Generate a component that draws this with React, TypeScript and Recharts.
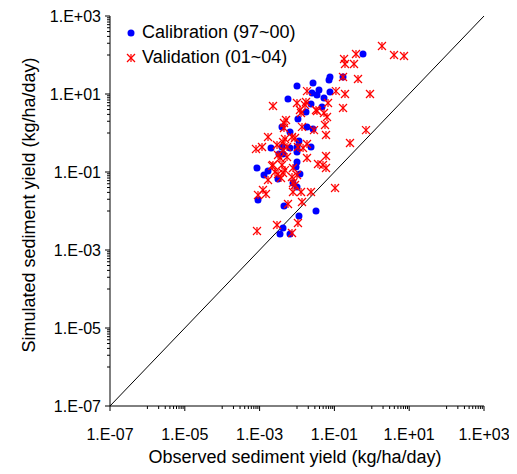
import React from 'react';
import { ScatterChart, Scatter, XAxis, YAxis, ReferenceLine } from 'recharts';

// Calibration (97~00): observed vs simulated sediment yield (kg/ha/day)
const calibrationObserved = [
  0.582, 0.0762, 0.0718, 0.17, 0.0268, 0.0387, 0.0762, 0.0527, 0.0252, 0.0343,
  0.0237, 0.0466, 0.01, 0.00574, 0.0174, 0.0106, 0.00397, 0.0065, 0.0185, 0.00202,
  0.00397, 0.0065, 0.01, 0.0113, 0.0237, 0.00423, 0.01, 0.0033, 0.000851, 0.00131,
  0.00168, 0.0031, 0.01, 0.0094, 0.012, 0.00782, 0.01, 0.000906, 0.00449, 0.0113,
  0.0322, 0.00423, 0.00351, 0.0065, 0.0268,
];
const calibrationSimulated = [
  106, 27.3, 22.9, 27.3, 19.1, 12.7, 11.2, 7.89, 10.6, 9.42,
  5.54, 4.64, 16.0, 7.44, 3.45, 2.29, 1.43, 1.06, 1.43, 0.412,
  0.438, 0.412, 0.438, 0.624, 0.438, 0.29, 0.326, 0.29, 0.127, 0.0838,
  0.106, 0.0662, 0.18, 0.134, 0.0889, 0.0522, 0.0412, 0.0191, 0.0134, 0.00745,
  0.01, 0.00366, 0.00257, 0.00257, 1.27,
];

// Validation (01~04)
const validationObserved = [
  1.87, 3.93, 7.26, 0.378, 0.181, 0.192, 0.334, 0.17, 0.428, 0.192,
  0.895, 0.17, 0.7, 0.11, 0.0675, 0.0322, 0.0527, 0.0634, 0.261, 0.104,
  0.0596, 0.0495, 0.0596, 0.0596, 0.0561, 0.0237, 0.00228, 0.0185, 0.01, 0.0174,
  0.012, 0.0343, 0.00508, 0.00449, 0.0136, 0.0285, 0.00168, 0.00116, 0.000802, 0.00477,
  0.00735, 0.0185, 0.0145, 0.0106, 0.00423, 0.00541, 0.00311, 0.00541, 0.00228, 0.00397,
  0.00477, 0.00782, 0.0185, 0.00168, 0.00311, 0.01, 0.00782, 0.0364, 0.00373, 0.00123,
  0.000906, 0.00148, 0.00782, 0.0128, 0.00574, 0.0136, 0.0106, 0.00292, 0.000851, 0.00735,
  0.00885, 0.0164, 0.0128, 0.00449, 0.00885, 0.00292, 0.00423, 0.00351, 0.00215, 0.00258,
  0.00423, 0.00735,
];
const validationSimulated = [
  170, 100, 94.2, 106, 78.9, 58.8, 58.8, 27.3, 24.3, 10.0,
  10.0, 4.38, 1.19, 11.9, 5.88, 3.89, 3.26, 2.57, 0.555, 0.0389,
  0.257, 0.151, 0.127, 0.889, 1.6, 0.0307, 4.92, 11.9, 5.88, 6.24,
  3.89, 3.66, 2.15, 1.34, 1.43, 1.19, 0.789, 0.438, 0.389, 0.701,
  0.789, 0.523, 0.412, 0.438, 0.588, 0.438, 0.273, 0.243, 0.151, 0.151,
  0.112, 0.127, 0.229, 0.0624, 0.0889, 0.0838, 0.0522, 0.16, 0.0702, 0.0345,
  0.0257, 0.0273, 0.0307, 0.0307, 0.0151, 0.017, 0.00492, 0.00438, 0.00307, 0.00273,
  0.0465, 5.22, 3.26, 1.8, 0.745, 0.492, 0.366, 0.229, 0.143, 0.1,
  0.0942, 0.0745,
];

const labelledTicks = [1e-7, 1e-5, 1e-3, 1e-1, 1e1, 1e3];
const minorDecades = [1e-6, 1e-4, 1e-2, 1, 1e2];
const minorMultipliers = [1, 2, 3, 4, 5, 6, 7, 8, 9];
const axisDomain = [1e-7, 1e3];

const axisTicks = [
  ...labelledTicks,
  ...minorDecades.flatMap((d) => minorMultipliers.map((m) => d * m)),
].sort((a, b) => a - b);

const calibrationData = calibrationObserved.map((x, i) => ({ x, y: calibrationSimulated[i] }));
const validationData = validationObserved.map((x, i) => ({ x, y: validationSimulated[i] }));

const FONT = '"Liberation Sans", Arial, sans-serif';
const BLUE = '#0000FF';
const RED = '#FF0000';

const isLabelled = (v: number) =>
  labelledTicks.some((t) => Math.abs(Math.log10(t) - Math.log10(v)) < 1e-6);

const formatTick = (v: number) => {
  const e = Math.round(Math.log10(v));
  return `1.E${e < 0 ? '-' : '+'}${String(Math.abs(e)).padStart(2, '0')}`;
};

const XTick = (props: any) => {
  const { x, y, payload } = props;
  const v = payload.value;
  const major = isLabelled(v);
  return (
    <g>
      <line x1={x} x2={x} y1={y} y2={y + (major ? 5 : 3)} stroke="#000" strokeWidth={1} />
      {major && (
        <text x={x} y={y + 34} textAnchor="middle" fontSize={16} fontFamily={FONT} fill="#000">
          {formatTick(v)}
        </text>
      )}
    </g>
  );
};

const YTick = (props: any) => {
  const { x, y, payload } = props;
  const v = payload.value;
  const major = isLabelled(v);
  return (
    <g>
      <line x1={x} x2={x - (major ? 5 : 3)} y1={y} y2={y} stroke="#000" strokeWidth={1} />
      {major && (
        <text x={x - 9} y={y + 6} textAnchor="end" fontSize={16} fontFamily={FONT} fill="#000">
          {formatTick(v)}
        </text>
      )}
    </g>
  );
};

const BlueDot = (props: any) => <circle cx={props.cx} cy={props.cy} r={3.5} fill={BLUE} />;

const RedStar = (props: any) => {
  const { cx, cy } = props;
  const s = 4;
  return (
    <g stroke={RED} strokeWidth={1.2}>
      <line x1={cx - s} y1={cy - s} x2={cx + s} y2={cy + s} />
      <line x1={cx - s} y1={cy + s} x2={cx + s} y2={cy - s} />
      <line x1={cx} y1={cy - s} x2={cx} y2={cy + s} />
    </g>
  );
};

export default function App() {
  return (
    <div style={{ position: 'relative', width: 509, height: 466, fontFamily: FONT }}>
      <ScatterChart width={509} height={466} margin={{ top: 8, right: 33, bottom: 6, left: 10 }}>
        <XAxis
          type="number"
          dataKey="x"
          scale="log"
          domain={axisDomain}
          allowDataOverflow
          ticks={axisTicks}
          interval={0}
          tickSize={0}
          tickMargin={0}
          tickLine={false}
          tick={<XTick />}
          axisLine={{ stroke: '#000', strokeWidth: 1 }}
          height={62}
          label={{
            content: () => (
              <text x={287} y={449} textAnchor="middle" dominantBaseline="central" fontSize={18} fontFamily={FONT} fill="#000">
                Observed sediment yield (kg/ha/day)
              </text>
            ),
          }}
        />
        <YAxis
          type="number"
          dataKey="y"
          scale="log"
          domain={axisDomain}
          allowDataOverflow
          ticks={axisTicks}
          interval={0}
          tickSize={0}
          tickMargin={0}
          tickLine={false}
          tick={<YTick />}
          axisLine={{ stroke: '#000', strokeWidth: 1 }}
          width={92}
          label={{
            content: () => (
              <text
                x={21}
                y={197}
                transform="rotate(-90, 21, 197)"
                textAnchor="middle"
                dominantBaseline="central"
                fontSize={18}
                fontFamily={FONT}
                fill="#000"
              >
                Simulated sediment yield (kg/ha/day)
              </text>
            ),
          }}
        />
        <ReferenceLine
          segment={[
            { x: axisDomain[0], y: axisDomain[0] },
            { x: axisDomain[1], y: axisDomain[1] },
          ]}
          stroke="#000"
          strokeWidth={1}
        />
        <Scatter name="Calibration (97~00)" data={calibrationData} fill={BLUE} shape={<BlueDot />} isAnimationActive={false} />
        <Scatter name="Validation (01~04)" data={validationData} fill={RED} shape={<RedStar />} isAnimationActive={false} />
      </ScatterChart>
      <div style={{ position: 'absolute', left: 117, top: 12, fontSize: 18, color: '#000', lineHeight: '25px' }}>
        <div style={{ display: 'flex', alignItems: 'center' }}>
          <svg width={12} height={12} style={{ marginRight: 5 }}>
            <circle cx={6} cy={6} r={3.5} fill={BLUE} />
          </svg>
          <span>Calibration (97~00)</span>
        </div>
        <div style={{ display: 'flex', alignItems: 'center' }}>
          <svg width={12} height={12} style={{ marginRight: 5 }}>
            <g stroke={RED} strokeWidth={1.2}>
              <line x1={2} y1={2} x2={10} y2={10} />
              <line x1={2} y1={10} x2={10} y2={2} />
              <line x1={6} y1={2} x2={6} y2={10} />
            </g>
          </svg>
          <span>Validation (01~04)</span>
        </div>
      </div>
    </div>
  );
}
